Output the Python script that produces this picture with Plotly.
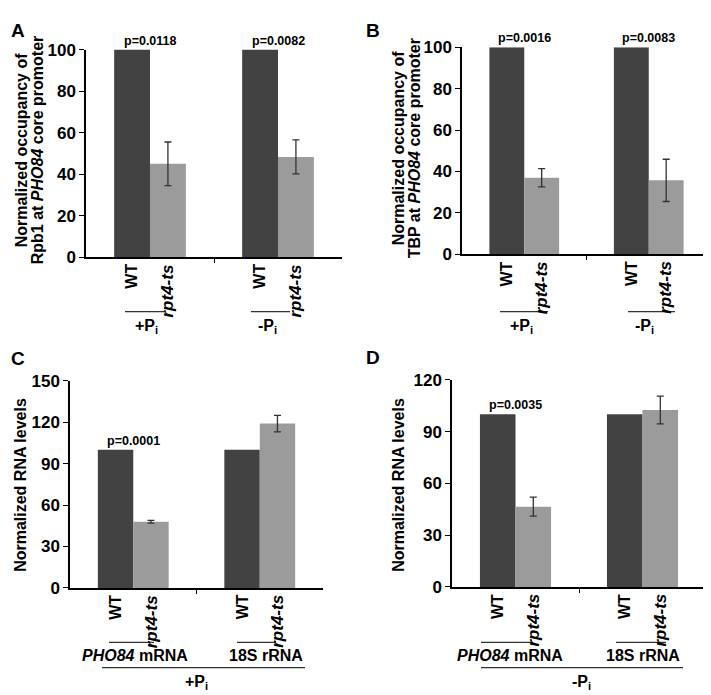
import plotly.graph_objects as go

# ---------------- data ----------------
strains = ["WT", "rpt4-ts"]
groups_AB = ["+Pi", "-Pi"]
groups_CD = ["PHO84 mRNA", "18S rRNA"]

A_wt = [100, 100]
A_rpt4 = [45, 48.3]
A_rpt4_err = [10.5, 8.2]
A_p = ["p=0.0118", "p=0.0082"]

B_wt = [100, 100]
B_rpt4 = [37, 35.7]
B_rpt4_err = [4.4, 10.2]
B_p = ["p=0.0016", "p=0.0083"]

C_wt = [100, 100]
C_rpt4 = [48, 119]
C_rpt4_err = [1.0, 6.0]
C_p = ["p=0.0001", None]

D_wt = [100, 100]
D_rpt4 = [46.5, 102.5]
D_rpt4_err = [5.5, 8.0]
D_p = ["p=0.0035", None]

W, H = 711, 695
FONT = "Liberation Sans, Arial, sans-serif"
WT_COL = "#424242"
MUT_COL = "#9b9b9b"
BARGAP = 0.44


def px(x):
    return x / W


def py(y):
    return 1 - y / H


def b(t):
    return f"<b>{t}</b>"


fig = go.Figure()

panels = [
    ("A", "x", "y", A_wt, A_rpt4, A_rpt4_err, A_p, (78, 334), (33.5, 247), 100, 20),
    ("B", "x2", "y2", B_wt, B_rpt4, B_rpt4_err, B_p, (454, 703), (31, 244), 100, 20),
    ("C", "x3", "y3", C_wt, C_rpt4, C_rpt4_err, C_p, (62, 315), (374, 587), 150, 30),
    ("D", "x4", "y4", D_wt, D_rpt4, D_rpt4_err, D_p, (444, 698), (373, 586), 120, 30),
]

annotations = []
shapes = []
layout_axes = {}
half = (1 - BARGAP) / 4  # offset of each bar centre from group centre

for i, (name, xa, ya, wt, mut, err, pv, xd, yd, ymax, dt) in enumerate(panels):
    xs = [0, 1]
    fig.add_trace(go.Bar(x=xs, y=wt, name="WT", marker=dict(color=WT_COL, line=dict(width=0)),
                         xaxis=xa, yaxis=ya, showlegend=False, offsetgroup="wt"))
    fig.add_trace(go.Bar(x=xs, y=mut, name="rpt4-ts", marker=dict(color=MUT_COL, line=dict(width=0)),
                         error_y=dict(type="data", array=err, visible=True, color="#333333",
                                      thickness=1.3, width=3.5),
                         xaxis=xa, yaxis=ya, showlegend=False, offsetgroup="mut"))
    xkey = "xaxis" if i == 0 else f"xaxis{i+1}"
    ykey = "yaxis" if i == 0 else f"yaxis{i+1}"
    tv = list(range(0, ymax + 1, dt))
    layout_axes[xkey] = dict(domain=[px(xd[0]), px(xd[1])], anchor=ya, range=[-0.5, 1.5],
                             showline=True, linecolor="black", linewidth=1.5,
                             tickmode="array", tickvals=[0.5], ticks="outside", ticklen=4,
                             tickcolor="black", showticklabels=False, showgrid=False, zeroline=False,
                             fixedrange=True)
    layout_axes[ykey] = dict(domain=[py(yd[1]), py(yd[0])], anchor=xa, range=[0, ymax],
                             tickmode="array", tickvals=tv, ticktext=[b(v) for v in tv],
                             showline=True, linecolor="black", linewidth=1.5,
                             ticks="outside", ticklen=5, tickcolor="black", showgrid=False,
                             zeroline=False, tickfont=dict(family=FONT, size=17, color="black"),
                             fixedrange=True)
    for g in range(2):
        for s, (lab, fs) in enumerate([(b("WT"), 16), (b("<i>rpt4-ts</i>"), 17)]):
            annotations.append(dict(x=g + (-half if s == 0 else half), xref=xa, y=py(yd[1] + 5),
                                    yref="paper", text=lab, textangle=-90, showarrow=False,
                                    xanchor="center", yanchor="top",
                                    font=dict(family=FONT, size=fs, color="black")))
        if pv[g]:
            annotations.append(dict(x=g, xref=xa, y=100, yref=ya, text=b(pv[g]), showarrow=False,
                                    xanchor="center", yanchor="bottom", yshift=0,
                                    font=dict(family=FONT, size=12.5, color="black")))

for lab, (x, y) in zip("ABCD", [(10, 14), (365, 14), (10, 351), (365, 350)]):
    annotations.append(dict(x=px(x), y=py(y), xref="paper", yref="paper", text=b(lab), showarrow=False,
                            xanchor="center", yanchor="middle",
                            font=dict(family=FONT, size=19, color="black")))

ytitles = [
    ("Normalized occupancy of", 13, 137), ("Rpb1 at <i>PHO84</i> core promoter", 29, 137),
    ("Normalized occupancy of", 390, 135), ("TBP at <i>PHO84</i> core promoter", 406, 135),
    ("Normalized RNA levels", 13, 481),
    ("Normalized RNA levels", 391, 481),
]
for t, x, y in ytitles:
    annotations.append(dict(x=px(x), y=py(y), xref="paper", yref="paper", text=b(t), showarrow=False,
                            textangle=-90, xanchor="center", yanchor="middle",
                            font=dict(family=FONT, size=16, color="black")))


def hline(x0, x1, y, width=1.2, color="#333333"):
    shapes.append(dict(type="line", xref="paper", yref="paper", x0=px(x0), x1=px(x1),
                       y0=py(y), y1=py(y), line=dict(color=color, width=width)))


def label(text, x, y, size=16):
    annotations.append(dict(x=px(x), y=py(y), xref="paper", yref="paper", text=b(text), showarrow=False,
                            xanchor="center", yanchor="middle",
                            font=dict(family=FONT, size=size, color="black")))


pi_plus = "+P<sub>i</sub>"
pi_minus = "-P<sub>i</sub>"

hline(117, 156, 303); hline(243, 282, 303)
label(pi_plus, 138, 318); label(pi_minus, 259, 318)
hline(492, 540, 303); hline(620, 667, 303)
label(pi_plus, 513, 318); label(pi_minus, 636, 318)

hline(101, 146, 643); hline(229, 268, 643)
label("<i>PHO84</i> mRNA", 127, 656); label("18S rRNA", 258, 656)
hline(94, 297, 669)
label(pi_plus, 188, 684)

hline(473, 525, 643); hline(608, 658, 643)
label("<i>PHO84</i> mRNA", 502, 656); label("18S rRNA", 635, 656)
hline(473, 675, 669)
label(pi_minus, 573, 684)

fig.update_layout(width=W, height=H, margin=dict(l=0, r=0, t=0, b=0),
                  paper_bgcolor="white", plot_bgcolor="white", barmode="group",
                  bargap=BARGAP, bargroupgap=0, annotations=annotations, shapes=shapes,
                  font=dict(family=FONT, color="black"), **layout_axes)

fig.write_html("out.html")
